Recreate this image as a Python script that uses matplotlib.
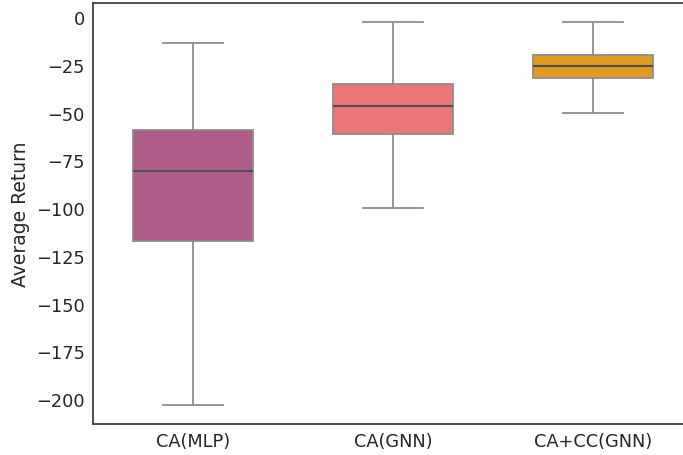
import matplotlib
matplotlib.use("Agg")
import matplotlib.pyplot as plt

categories = ["CA(MLP)", "CA(GNN)", "CA+CC(GNN)"]
whislo = [-203, -100, -50.3]
q1 = [-117.3, -61.3, -31.9]
med = [-80.6, -46.6, -25.7]
q3 = [-59.2, -35.0, -19.9]
whishi = [-13.6, -2.6, -2.6]
colors = ["#ae5d8a", "#ec7575", "#e09b24"]
yticks = [0, -25, -50, -75, -100, -125, -150, -175, -200]

plt.rcParams['font.family'] = ['DejaVu Sans']
fig = plt.figure(figsize=(6.83, 4.56), dpi=100)
ax = fig.add_axes([93/683, 1-425/456, 600/683, 421/456])

stats = []
for i, c in enumerate(categories):
    stats.append(dict(label=c, whislo=whislo[i], q1=q1[i], med=med[i], q3=q3[i], whishi=whishi[i], fliers=[]))

bp = ax.bxp(stats, positions=range(len(categories)), widths=0.6, patch_artist=True,
            showfliers=False,
            boxprops=dict(edgecolor="#8c8c8c", linewidth=1.3),
            whiskerprops=dict(color="#8c8c8c", linewidth=1.3),
            capprops=dict(color="#8c8c8c", linewidth=1.3),
            medianprops=dict(color="#505050", linewidth=1.5))
for patch, col in zip(bp["boxes"], colors):
    patch.set_facecolor(col)

ax.set_xlim(-0.5, 2.5)
ax.set_ylim(-213, 7.3)
ax.set_yticks(yticks)
ax.set_xticks(range(len(categories)))
ax.set_xticklabels(categories)
ax.tick_params(axis="both", length=0, labelsize=12.8, labelcolor="#262626", pad=6)
ax.set_ylabel("Average Return", fontsize=13.5, color="#262626")
for s in ax.spines.values():
    s.set_color("#3a3a3a")
    s.set_linewidth(1.25)
ax.spines["right"].set_visible(False)

fig.savefig("out.png", dpi=100)
